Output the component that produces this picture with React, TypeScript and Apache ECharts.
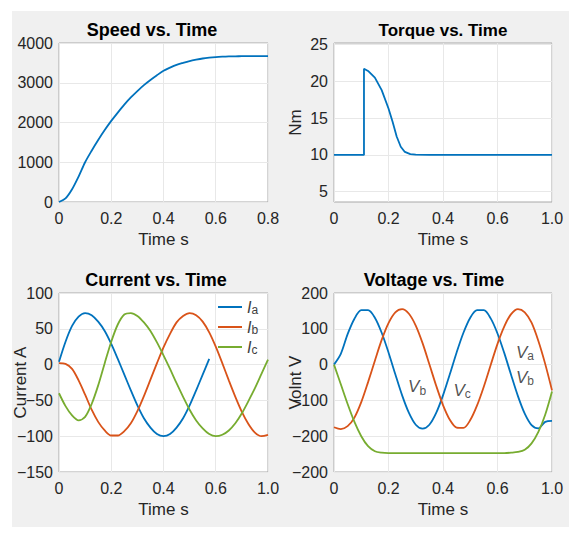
import React, { useEffect, useRef } from "react";
import * as echarts from "echarts";

const FONT = '"Liberation Sans", Arial, Helvetica, sans-serif';
const BLUE = "#0072BD";
const ORANGE = "#D95319";
const GREEN = "#77AC30";
const TEXT = "#262626";

// ---------- data ----------
const speedTime = [0, 0.025, 0.05, 0.075, 0.1, 0.125, 0.15, 0.175, 0.2, 0.225, 0.25, 0.275, 0.3, 0.325, 0.35, 0.375, 0.4, 0.425, 0.45, 0.475, 0.5, 0.525, 0.55, 0.575, 0.6, 0.625, 0.65, 0.675, 0.7, 0.725, 0.75, 0.775, 0.8];
const speedValues = [0, 90, 320, 640, 1000, 1290, 1560, 1810, 2040, 2250, 2450, 2630, 2790, 2940, 3070, 3190, 3300, 3380, 3450, 3500, 3545, 3580, 3610, 3630, 3645, 3655, 3662, 3666, 3668, 3670, 3670, 3670, 3670];

const torqueTime = [0, 0.11, 0.11, 0.125, 0.15, 0.175, 0.2, 0.215, 0.23, 0.245, 0.26, 0.28, 0.3, 0.35, 0.8];
const torqueValues = [10, 10, 21.7, 21.4, 20.5, 18.8, 16.3, 14.5, 12.5, 11.1, 10.4, 10.1, 10.03, 10, 10];

const currentTime = [0, 0.025, 0.05, 0.075, 0.1, 0.125, 0.15, 0.175, 0.2, 0.225, 0.25, 0.275, 0.3, 0.325, 0.35, 0.375, 0.4, 0.425, 0.45, 0.475, 0.5, 0.525, 0.55, 0.575, 0.6, 0.625, 0.65, 0.675, 0.7, 0.725, 0.75, 0.775, 0.8];
const iaValues = [4, 32, 54, 67, 72, 69, 60, 47, 29, 8, -14, -36, -57, -75, -88, -97, -100, -97, -88, -75, -57, -36, -14, 8];
const ibValues = [2, 1, -6, -22, -42, -63, -80, -92, -99, -99, -93, -82, -65, -44, -21, 2, 24, 43, 59, 68, 72, 69, 60, 45, 25, 2, -22, -45, -66, -83, -95, -100, -98];
const icValues = [-40, -58, -71, -78, -73, -55, -29, 2, 32, 56, 70, 72, 68, 59, 47, 31, 13, -6, -26, -45, -63, -78, -89, -97, -100, -98, -92, -82, -68, -51, -33, -13, 7];

const voltageTime = [0, 0.025, 0.05, 0.075, 0.1, 0.125, 0.15, 0.175, 0.2, 0.225, 0.25, 0.275, 0.3, 0.325, 0.35, 0.375, 0.4, 0.425, 0.45, 0.475, 0.5, 0.525, 0.55, 0.575, 0.6, 0.625, 0.65, 0.675, 0.7, 0.725, 0.75, 0.775, 0.8];
const vaValues = [0, 30, 85, 128, 152, 152, 131, 89, 34, -27, -86, -135, -168, -179, -168, -135, -86, -27, 34, 89, 131, 152, 152, 129, 87, 32, -29, -88, -137, -169, -178, -160, -157];
const vbValues = [-175, -180, -172, -148, -105, -49, 11, 69, 116, 146, 155, 142, 109, 60, 1, -59, -113, -154, -176, -177, -155, -114, -61, -1, 58, 107, 141, 155, 146, 117, 66, 2, -72];
const vcValues = [0, -55, -110, -160, -200, -228, -242, -246, -247, -247, -247, -247, -247, -247, -247, -247, -247, -247, -247, -247, -247, -247, -247, -247, -247, -247, -246, -244, -238, -220, -188, -140, -75];

const voltageNoteText = ["a", "b", "b", "c"];
const voltageNoteTime = [0.701, 0.701, 0.305, 0.47];
const voltageNoteValue = [35, -35, -62, -71];

const speedXTickLabels = ["0", "0.2", "0.4", "0.6", "0.8"];
const otherXTickLabels = ["0", "0.2", "0.4", "0.6", "1.0"];
const torqueYTicks = [5, 10, 15, 20, 25];
const voltageYTickLabels = ["\u2212200", "\u2212200", "\u2212100", "0", "100", "200"];
const legendNames = ["Ia", "Ib", "Ic"];

const pairs = (t: number[], v: number[]) => v.map((y, i) => [t[i], y]);
const minus = (v: number) => (v < 0 ? "\u2212" + Math.abs(v) : String(v));

const grids = [
  { left: 59, top: 43, width: 209, height: 159 },
  { left: 334, top: 43, width: 218, height: 159 },
  { left: 59, top: 293, width: 209, height: 179 },
  { left: 334, top: 293, width: 218, height: 179 },
];

const labelStyle = { color: TEXT, fontSize: 16, fontFamily: FONT };
const nameStyle = { color: TEXT, fontSize: 17, fontFamily: FONT };
const splitLine = { show: true, lineStyle: { color: "#e8e8e8", width: 1 } };

function xAxis(i: number, labels: string[]) {
  return {
    type: "value",
    gridIndex: i,
    min: 0,
    max: 0.8,
    interval: 0.2,
    axisLine: { show: false },
    axisTick: { show: false },
    splitLine,
    axisLabel: {
      ...labelStyle,
      margin: 8,
      showMinLabel: true,
      showMaxLabel: true,
      formatter: (_v: number, idx: number) => labels[idx] ?? "",
    },
    name: "Time s",
    nameLocation: "middle",
    nameGap: 29,
    nameMoveOverlap: false,
    nameTextStyle: nameStyle,
  };
}

const yBase = {
  type: "value",
  axisLine: { show: false },
  axisTick: { show: false },
  splitLine,
  nameLocation: "middle",
  nameGap: 30,
  nameMoveOverlap: false,
  nameTextStyle: nameStyle,
};

const line = (name: string, color: string, data: number[][], x: number) => ({
  type: "line",
  name,
  xAxisIndex: x,
  yAxisIndex: x,
  data,
  symbol: "none",
  smooth: 0.3,
  lineStyle: { color, width: 1.8 },
  itemStyle: { color },
});

const titleText = (text: string, x: number, y: number, size: number) => ({
  type: "text",
  x,
  y,
  style: {
    text,
    fill: "#000",
    font: `bold ${size}px ${FONT}`,
    textAlign: "center",
    textVerticalAlign: "middle",
  },
});

const subRich = {
  v: { fontStyle: "italic", fontSize: 17, fontFamily: FONT, color: TEXT, lineHeight: 20, verticalAlign: "middle" },
  s: { fontSize: 12, fontFamily: FONT, color: TEXT, lineHeight: 12, verticalAlign: "bottom" },
};

const option = {
  animation: false,
  backgroundColor: "transparent",
  grid: grids.map((g) => ({ ...g, show: true, backgroundColor: "#ffffff", borderColor: "#a8a8a8", borderWidth: 1, containLabel: false })),
  graphic: [
    titleText("Speed vs. Time", 152, 30, 18),
    titleText("Torque vs. Time", 443, 30, 17),
    titleText("Current vs. Time", 156, 280, 18),
    titleText("Voltage vs. Time", 434, 280, 18),
  ],
  legend: {
    data: legendNames,
    orient: "vertical",
    left: 218,
    top: 299,
    icon: "rect",
    itemWidth: 24,
    itemHeight: 2,
    itemGap: 3,
    padding: 0,
    formatter: (name: string) => `{i|I}{s|${name.slice(1)}}`,
    textStyle: {
      color: "#404040",
      rich: {
        i: { fontStyle: "italic", fontSize: 16, fontFamily: FONT, color: "#404040", lineHeight: 18, verticalAlign: "middle" },
        s: { fontSize: 12, fontFamily: FONT, color: "#404040", lineHeight: 12, verticalAlign: "bottom" },
      },
    },
  },
  xAxis: [xAxis(0, speedXTickLabels), xAxis(1, otherXTickLabels), xAxis(2, otherXTickLabels), xAxis(3, otherXTickLabels)],
  yAxis: [
    { ...yBase, gridIndex: 0, min: 0, max: 4000, interval: 1000, axisLabel: { ...labelStyle, margin: 6, formatter: (v: number) => String(v) } },
    {
      ...yBase,
      gridIndex: 1,
      min: 3.6,
      max: 25.2,
      name: "Nm",
      axisTick: { show: false, customValues: torqueYTicks },
      axisLabel: { ...labelStyle, margin: 6, customValues: torqueYTicks },
    },
    {
      ...yBase,
      gridIndex: 2,
      min: -150,
      max: 100,
      interval: 50,
      name: "Current A",
      axisLabel: { ...labelStyle, margin: 6, formatter: minus },
    },
    {
      ...yBase,
      gridIndex: 3,
      min: -300,
      max: 200,
      interval: 100,
      name: "Volnt V",
      axisLabel: { ...labelStyle, margin: 6, formatter: (_v: number, idx: number) => voltageYTickLabels[idx] ?? "" },
    },
  ],
  series: [
    line("Speed", BLUE, pairs(speedTime, speedValues), 0),
    { ...line("Torque", BLUE, pairs(torqueTime, torqueValues), 1), smooth: false },
    line("Ia", BLUE, pairs(currentTime, iaValues), 2),
    line("Ib", ORANGE, pairs(currentTime, ibValues), 2),
    line("Ic", GREEN, pairs(currentTime, icValues), 2),
    line("Va", BLUE, pairs(voltageTime, vaValues), 3),
    line("Vb", ORANGE, pairs(voltageTime, vbValues), 3),
    line("Vc", GREEN, pairs(voltageTime, vcValues), 3),
    {
      type: "scatter",
      name: "notes",
      xAxisIndex: 3,
      yAxisIndex: 3,
      symbolSize: 0,
      data: voltageNoteText.map((s, i) => ({ name: s, value: [voltageNoteTime[i], voltageNoteValue[i]] })),
      label: {
        show: true,
        position: [0, 0],
        align: "center",
        verticalAlign: "middle",
        formatter: (p: any) => `{v|V}{s|${p.name}}`,
        rich: subRich,
      },
      silent: true,
    },
  ],
};

export default function App() {
  const ref = useRef<HTMLDivElement>(null);
  useEffect(() => {
    const chart = echarts.init(ref.current!, null, { renderer: "svg" });
    chart.setOption(option as any);
    return () => chart.dispose();
  }, []);
  return (
    <div style={{ position: "fixed", left: 0, top: 0, width: 569, height: 534, background: "#ffffff" }}>
      <div style={{ position: "absolute", left: 12, top: 11, width: 557, height: 516, background: "#f0f0f0" }} />
      <div ref={ref} style={{ position: "absolute", left: 0, top: 0, width: 569, height: 534 }} />
    </div>
  );
}
